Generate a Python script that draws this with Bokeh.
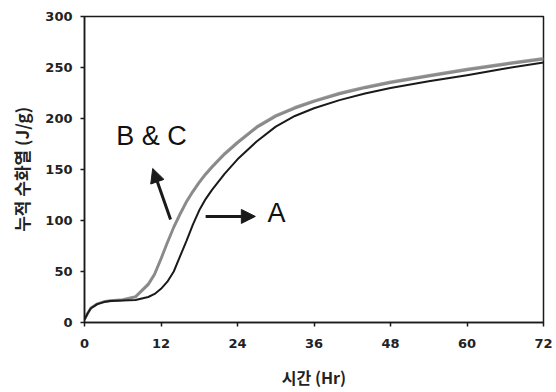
from bokeh.plotting import figure
from bokeh.models import Range1d, FixedTicker, Arrow, NormalHead, Label
from bokeh.embed import file_html
from bokeh.resources import INLINE

# ---- data ----
hours = [0, 0.5, 1, 2, 3, 4, 6, 8, 10, 11, 12, 13, 14, 15, 16, 17, 18, 19, 20,
         22, 24, 27, 30, 33, 36, 40, 44, 48, 54, 60, 66, 72]
heat_A = [3, 9, 14, 18, 20, 21, 21.5, 22, 25, 28, 33, 40, 50, 65, 80, 96, 110, 121, 130,
          146, 160, 177.5, 192, 202.5, 210, 218, 224.5, 230, 236.5, 242.5, 249, 255]
heat_B = [3, 9, 14, 18, 20, 21, 22, 25, 37, 47, 62, 78, 93, 106, 118, 128, 137, 145, 152,
          165, 176, 191, 202, 210, 216.5, 224, 230, 235, 241.5, 247.5, 253, 258]
heat_C = [3, 9, 14.5, 18.5, 20.5, 21.5, 22.5, 25.5, 38, 48, 63, 79, 94, 107, 119, 129, 138, 146, 153,
          166, 177, 192, 203, 211, 217.5, 225, 231, 236, 242.5, 248.5, 254, 259]
x_ticks = [0, 12, 24, 36, 48, 60, 72]
y_ticks = [0, 50, 100, 150, 200, 250, 300]

# annotation positions (data units)
bc_label = ("B & C", 10.5, 183)
bc_arrow = (13.5, 101, 10.7, 151)
a_label = ("A", 30.1, 107)
a_arrow = (19.0, 104, 26.8, 104)

p = figure(width=556, height=392, output_backend="svg", toolbar_location=None,
           x_range=Range1d(0, 72), y_range=Range1d(0, 300),
           min_border_left=84, min_border_right=13, min_border_top=16, min_border_bottom=70)
p.background_fill_color = "white"
p.border_fill_color = "white"
p.outline_line_color = "#1a1a1a"
p.outline_line_width = 1.5
p.grid.visible = False

for ax in (p.xaxis, p.yaxis):
    ax.axis_line_color = "#1a1a1a"
    ax.axis_line_width = 1.5
    ax.major_tick_line_color = "#1a1a1a"
    ax.major_tick_line_width = 1.5
    ax.major_tick_out = 4
    ax.major_tick_in = 0
    ax.minor_tick_line_color = None
    ax.major_label_text_font = "DejaVu Sans"
    ax.major_label_text_font_style = "bold"
    ax.major_label_text_font_size = "13px"
    ax.major_label_text_color = "#222222"
    ax.major_label_text_line_height = 1.0
    ax.axis_label_text_font = "Noto Sans CJK KR"
    ax.axis_label_text_font_style = "bold"
    ax.axis_label_text_color = "#222222"
    ax.axis_label_text_line_height = 1.0

p.xaxis.ticker = FixedTicker(ticks=x_ticks)
p.yaxis.ticker = FixedTicker(ticks=y_ticks)
p.xaxis.major_label_standoff = 12
p.yaxis.major_label_standoff = 8
p.xaxis.axis_label = "시간 (Hr)"
p.yaxis.axis_label = "누적 수화열 (J/g)"
p.xaxis.axis_label_text_font_size = "16px"
p.yaxis.axis_label_text_font_size = "17px"
p.xaxis.axis_label_standoff = 14
p.yaxis.axis_label_standoff = 8

p.line(hours, heat_C, line_color="#9a9a9a", line_width=2.5, line_join="round")
p.line(hours, heat_B, line_color="#8a8a8a", line_width=2.5, line_join="round")
p.line(hours, heat_A, line_color="#1a1a1a", line_width=2, line_join="round")

for (x0, y0, x1, y1) in (bc_arrow, a_arrow):
    p.add_layout(Arrow(end=NormalHead(size=14, fill_color="#1a1a1a", line_color="#1a1a1a"),
                       x_start=x0, y_start=y0, x_end=x1, y_end=y1,
                       line_color="#1a1a1a", line_width=3))

for (t, x, y) in (bc_label, a_label):
    p.add_layout(Label(x=x, y=y, text=t, text_font="Liberation Sans", text_font_size="27px",
                       text_color="#111111", text_align="center", text_baseline="middle"))

open("out.html", "w").write(file_html(p, INLINE))
